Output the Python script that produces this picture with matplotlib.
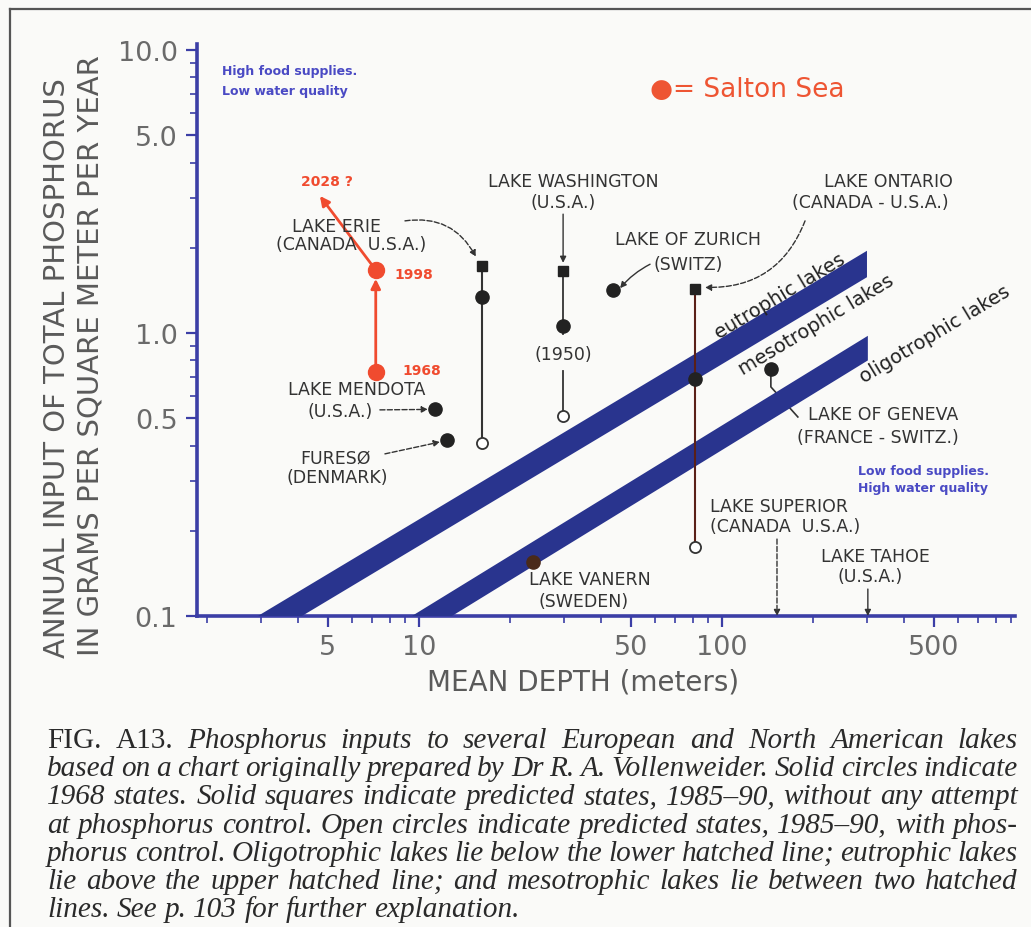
import numpy as np
import matplotlib
matplotlib.use("Agg")
import matplotlib.pyplot as plt
from matplotlib.patches import Polygon
from matplotlib.lines import Line2D
from matplotlib.ticker import FixedLocator, LogLocator, NullFormatter

# ---------------- data ----------------
x_ticks = [5, 10, 50, 100, 500]
x_tick_labels = ["5", "10", "50", "100", "500"]
y_ticks = [0.1, 0.5, 1.0, 5.0, 10.0]
y_tick_labels = ["0.1", "0.5", "1.0", "5.0", "10.0"]

# lakes with 1968 state, predicted without control, predicted with control
track_lakes = ["Lake Erie", "Lake Washington", "Lake Ontario"]
track_depth = [16.1, 29.9, 81.5]
track_1968 = [1.34, 1.06, 0.69]
track_no_control = [1.72, 1.66, 1.43]
track_control = [0.41, 0.51, 0.175]

# lakes with only the 1968 state
single_lakes = ["Lake Mendota", "Furesø", "Lake of Zurich", "Lake of Geneva", "Lake Vanern"]
single_depth = [11.3, 12.4, 43.7, 145.0, 23.8]
single_1968 = [0.54, 0.42, 1.42, 0.746, 0.155]

# lakes only marked by depth
arrow_lakes = ["Lake Superior", "Lake Tahoe"]
arrow_depth = [151.9, 303.0]

# Salton Sea
salton_years = ["1968", "1998"]
salton_depth = [7.2, 7.2]
salton_load = [0.73, 1.67]
salton_2028_depth = 4.71
salton_2028_load = 3.05

# trophic boundary bands (log-log straight): load = 0.1*(depth/start)**slope
band_upper_start = [2.94, 9.48]
band_lower_start = [4.11, 12.85]
band_end_depth = [301.0, 303.0]
band_slope = [0.642, 0.658]

caption_lines = [
    "FIG. A13.  Phosphorus inputs to several European and North American lakes",
    "based on a chart originally prepared by Dr R. A. Vollenweider. Solid circles indicate",
    "1968 states. Solid squares indicate predicted states, 1985\u201390, without any attempt",
    "at phosphorus control. Open circles indicate predicted states, 1985\u201390, with phos-",
    "phorus control. Oligotrophic lakes lie below the lower hatched line; eutrophic lakes",
    "lie above the upper hatched line; and mesotrophic lakes lie between two hatched",
    "lines. See p. 103 for further explanation.",
]

# ---------------- figure ----------------
W, H = 1031, 928
BG = "#fafaf8"
fig = plt.figure(figsize=(W / 100, H / 100), dpi=100, facecolor=BG)


def F(px, py):
    return px / W, 1 - py / H


ax = fig.add_axes([197 / W, 1 - 617 / H, (1015 - 197) / W, (617 - 45) / H])
ax.set_facecolor(BG)
ax.set_xscale("log")
ax.set_yscale("log")
ax.set_xlim(1.851, 927)
ax.set_ylim(0.1, 10.5)

AXC = "#3b3ea6"
for s in ["top", "right"]:
    ax.spines[s].set_visible(False)
for s in ["left", "bottom"]:
    ax.spines[s].set_color(AXC)
    ax.spines[s].set_linewidth(2.6)

ax.xaxis.set_major_locator(FixedLocator(x_ticks))
ax.set_xticklabels(x_tick_labels)
ax.yaxis.set_major_locator(FixedLocator(y_ticks))
ax.set_yticklabels(y_tick_labels)
ax.xaxis.set_minor_locator(LogLocator(base=10, subs=np.arange(2, 10)))
ax.yaxis.set_minor_locator(LogLocator(base=10, subs=np.arange(2, 10)))
ax.xaxis.set_minor_formatter(NullFormatter())
ax.yaxis.set_minor_formatter(NullFormatter())
ax.tick_params(which="major", direction="out", length=8, width=1.6, color=AXC,
               labelsize=19.5, labelcolor="#6a6a6a")
ax.tick_params(which="minor", direction="out", length=5, width=1.2, color=AXC)
ax.tick_params(axis="y", which="major", pad=6)
ax.tick_params(axis="x", which="major", pad=5)

# ---------------- bands ----------------
BAND = "#29348e"
for us, ls, xe, b in zip(band_upper_start, band_lower_start, band_end_depth, band_slope):
    yu = 0.1 * (xe / us) ** b
    yl = 0.1 * (xe / ls) ** b
    poly = Polygon([(us, 0.1), (xe, yu), (xe, yl), (ls, 0.1)], closed=True,
                   facecolor=BAND, edgecolor="none", zorder=3)
    ax.add_patch(poly)

TXT = "#333333"
lab = dict(fontsize=12.5, color=TXT, ha="center", va="center", zorder=6)

# ---------------- lake tracks ----------------
line_cols = ["#333333", "#333333", "#5a2018"]
for name, d, a, nc, c, lc in zip(track_lakes, track_depth, track_1968, track_no_control,
                                  track_control, line_cols):
    if name == "Lake Washington":
        ax.plot([d, d], [nc, 0.99], color=lc, lw=1.3, zorder=4)
        ax.plot([d, d], [0.734, c], color=lc, lw=1.3, zorder=4)
    else:
        ax.plot([d, d], [nc, c], color=lc, lw=1.5, zorder=4)
    ax.plot(d, nc, marker="s", ms=7.5, color="#222222", ls="none", zorder=5)
    ax.plot(d, a, marker="o", ms=9.5, color="#222222", ls="none", zorder=5)
    ax.plot(d, c, marker="o", ms=8, mfc="white", mec="#333333", mew=1.3, ls="none", zorder=5)

# geneva leader line (under band)
ax.plot([145.0, 145.0, 178], [0.746, 0.645, 0.505], color="#333333", lw=1.2, zorder=2)

for name, d, v in zip(single_lakes, single_depth, single_1968):
    col = "#4a2a1a" if name == "Lake Vanern" else "#222222"
    ax.plot(d, v, marker="o", ms=9.5, color=col, ls="none", zorder=5)

# ---------------- Salton Sea ----------------
RED = "#f04b2f"
ax.annotate("", xy=(salton_depth[1], salton_load[1] * 0.93), xytext=(salton_depth[0], salton_load[0]),
            arrowprops=dict(arrowstyle="-|>", color=RED, lw=2, mutation_scale=14,
                            shrinkA=0, shrinkB=0), zorder=6)
ax.annotate("", xy=(salton_2028_depth, salton_2028_load), xytext=(salton_depth[1], salton_load[1]),
            arrowprops=dict(arrowstyle="-|>", color=RED, lw=2, mutation_scale=14,
                            shrinkA=0, shrinkB=0), zorder=6)
ax.plot(salton_depth, salton_load, marker="o", ms=11.5, color=RED, ls="none", zorder=7)
red_txt = dict(color=RED, fontsize=10, fontweight="bold", va="center", zorder=7)
ax.text(4.97, 3.44, "2028 ?", ha="center", **red_txt)
ax.text(8.33, 1.62, salton_years[1], ha="left", **red_txt)
ax.text(8.79, 0.740, salton_years[0], ha="left", **red_txt)

# ---------------- lake labels ----------------
ax.text(32.2, 3.44, "LAKE WASHINGTON", **lab)
ax.text(29.9, 2.90, "(U.S.A.)", **lab)
ax.text(29.9, 0.843, "(1950)", **lab)
ax.text(5.36, 2.39, "LAKE ERIE", **lab)
ax.text(5.97, 2.06, "(CANADA  U.S.A.)", **lab)
ax.text(6.24, 0.634, "LAKE MENDOTA", **lab)
ax.text(5.49, 0.530, "(U.S.A.)", **lab)
ax.text(5.32, 0.362, "FURESØ", **lab)
ax.text(5.39, 0.310, "(DENMARK)", **lab)
ax.text(77.2, 2.15, "LAKE OF ZURICH", **lab)
ax.text(77.2, 1.75, "(SWITZ)", **lab)
ax.text(353, 3.44, "LAKE ONTARIO", **lab)
ax.text(308, 2.90, "(CANADA - U.S.A.)", **lab)
ax.text(340, 0.517, "LAKE OF GENEVA", **lab)
ax.text(327, 0.429, "(FRANCE - SWITZ.)", **lab)
ax.text(91.3, 0.245, "LAKE SUPERIOR", **{**lab, "ha": "left"})
ax.text(91.3, 0.208, "(CANADA  U.S.A.)", **{**lab, "ha": "left"})
ax.text(320, 0.163, "LAKE TAHOE", **lab)
ax.text(308, 0.1384, "(U.S.A.)", **lab)
ax.text(36.7, 0.135, "LAKE VANERN", **lab)
ax.text(34.8, 0.113, "(SWEDEN)", **lab)

arr = dict(arrowstyle="-|>", color="#333333", lw=1.0, mutation_scale=9, shrinkA=0, shrinkB=0)
# Erie
ax.annotate("", xy=(15.4, 1.86), xytext=(8.99, 2.49),
            arrowprops={**arr, "linestyle": "--", "connectionstyle": "arc3,rad=-0.35"})
# Washington
ax.annotate("", xy=(29.9, 1.77), xytext=(29.9, 2.63), arrowprops=arr)
# Mendota
ax.annotate("", xy=(10.7, 0.537), xytext=(7.43, 0.535), arrowprops={**arr, "linestyle": "--"})
# Furesø
ax.annotate("", xy=(11.73, 0.412), xytext=(7.72, 0.374), arrowprops={**arr, "linestyle": "--"})
# Zurich
ax.annotate("", xy=(46.1, 1.44), xytext=(57.9, 1.75),
            arrowprops={**arr, "connectionstyle": "arc3,rad=0.1"})
# Ontario
ax.annotate("", xy=(87.9, 1.45), xytext=(188, 2.49),
            arrowprops={**arr, "linestyle": "--", "connectionstyle": "arc3,rad=-0.35"})
# Superior / Tahoe
ax.annotate("", xy=(arrow_depth[0], 0.1), xytext=(arrow_depth[0], 0.187),
            arrowprops={**arr, "linestyle": "--"})
ax.annotate("", xy=(arrow_depth[1], 0.1), xytext=(arrow_depth[1], 0.1245), arrowprops=arr)

# band labels
blab = dict(fontsize=14, color="#222222", ha="center", va="center", rotation=31,
            rotation_mode="anchor", zorder=6)
ax.text(155, 1.36, "eutrophic lakes", **blab)
ax.text(204, 1.076, "mesotrophic lakes", **blab)
ax.text(505, 0.992, "oligotrophic lakes", **blab)

# ---------------- figure-level texts ----------------
BLUE = "#4a4ac4"
fig.text(*F(222, 71), "High food supplies.", color=BLUE, fontsize=9, fontweight="bold", va="center")
fig.text(*F(222, 92), "Low water quality", color=BLUE, fontsize=9, fontweight="bold", va="center")
fig.text(*F(858, 471), "Low food supplies.", color=BLUE, fontsize=9, fontweight="bold", va="center")
fig.text(*F(858, 489), "High water quality", color=BLUE, fontsize=9, fontweight="bold", va="center")
fig.text(*F(650, 90), "\u25cf= Salton Sea", color="#ee5533", fontsize=19, va="center")

GRAY = "#5a5a5a"
fig.text(*F(57, 368), "ANNUAL INPUT OF TOTAL PHOSPHORUS", rotation=90, ha="center", va="center",
         fontsize=21, color=GRAY)
fig.text(*F(90, 356), "IN GRAMS PER SQUARE METER PER YEAR", rotation=90, ha="center", va="center",
         fontsize=21, color=GRAY)
fig.text(*F(583, 683), "MEAN DEPTH (meters)", ha="center", va="center", fontsize=20, color=GRAY)

# frame
fig.add_artist(Line2D([10 / W, 10 / W], [0, 1 - 10 / H], color="#555555", lw=1.6))
fig.add_artist(Line2D([10 / W, 1], [1 - 10 / H, 1 - 10 / H], color="#555555", lw=1.6))

# ---------------- caption (justified) ----------------
renderer = fig.canvas.get_renderer()
CAPF = "Liberation Serif"
CAPC = "#2a2a2a"
left_px, right_px = 47, 1018
avail = right_px - left_px
fs0 = 20.0


def word_style(i, w):
    return "normal" if (i == 0 and w in ("FIG.", "A13.")) else "italic"


def measure(i, words, fs):
    ws = []
    for w in words:
        t = fig.text(0, 0, w, fontsize=fs, family=CAPF, style=word_style(i, w))
        ws.append(t.get_window_extent(renderer).width)
        t.remove()
    return ws


fs = 21.5
for i, line in enumerate(caption_lines[:-1]):
    words = line.split()
    ws = measure(i, words, fs0)
    em0 = fs0 * 100 / 72
    need = sum(ws) + (len(words) - 1) * 0.2 * em0
    fs = min(fs, fs0 * avail / need)

em = fs * 100 / 72
for i, line in enumerate(caption_lines):
    words = line.split()
    ws = measure(i, words, fs)
    if i < len(caption_lines) - 1:
        gap = (avail - sum(ws)) / (len(words) - 1)
    else:
        gap = 0.24 * em
    x = left_px
    base = 748 + 28.2 * i
    for w, wd in zip(words, ws):
        fig.text(*F(x, base), w, fontsize=fs, family=CAPF, style=word_style(i, w),
                 color=CAPC, va="baseline", ha="left")
        x += wd + gap

fig.savefig("out.png", dpi=100, facecolor=BG)
